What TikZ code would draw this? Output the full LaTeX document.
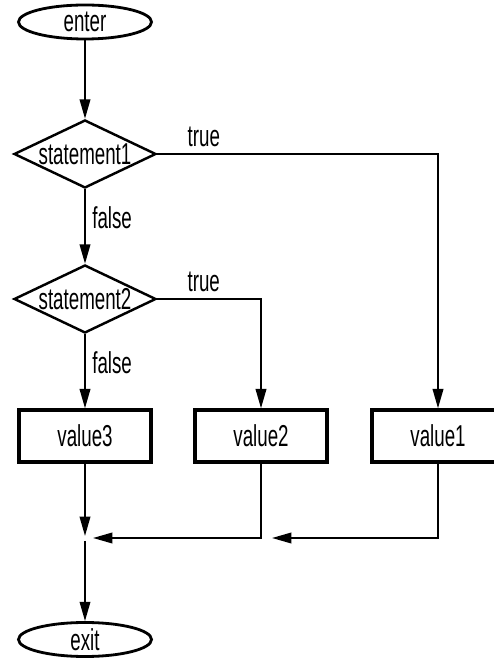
\documentclass[tikz,border=0pt]{standalone}
\usepackage{fontspec}
\setmainfont{Liberation Sans}[FakeStretch=0.62]
\usetikzlibrary{arrows.meta,shapes.geometric}
\tikzset{
  flowarr/.style  = {-{Triangle[length=5.5pt,width=3pt]},line width=0.55pt},
  termnode/.style = {draw,ellipse,line width=0.8pt,inner sep=0pt,minimum width=1.33cm,minimum height=0.34cm},
  decnode/.style  = {draw,diamond,aspect=2.1,line width=0.7pt,inner sep=0pt,minimum width=1.42cm,minimum height=0.68cm},
  valbox/.style   = {draw,rectangle,line width=0.95pt,minimum width=1.32cm,minimum height=0.52cm},
  branchlbl/.style = {inner sep=1.8pt}
}

\begin{document}
\begin{tikzpicture}[font=\fontsize{8.6pt}{10pt}\selectfont]
  \useasboundingbox (0,0) rectangle (4.94,6.58);
  \node[termnode] (enter) at (0.85,6.36) {enter};
  \node[decnode]  (st1)   at (0.85,5.04) {statement1};
  \node[decnode]  (st2)   at (0.85,3.59) {statement2};
  \node[valbox]   (val3)  at (0.85,2.22) {value3};
  \node[valbox]   (val2)  at (2.61,2.22) {value2};
  \node[valbox]   (val1)  at (4.38,2.22) {value1};
  \coordinate     (join)  at (0.85,1.20);
  \coordinate     (mid)   at (val2 |- join);
  \node[termnode] (exit)  at (0.85,0.185) {exit};
  % decisions
  \draw[flowarr] (enter) -- (st1);
  \draw[flowarr] (st1.east) -| node[pos=0.083,above,branchlbl]{true} (val1.north);
  \draw[flowarr] (st1.south) -- node[pos=0.38,right,branchlbl]{false} (st2.north);
  \draw[flowarr] (st2.east) -| node[pos=0.224,above,branchlbl]{true} (val2.north);
  \draw[flowarr] (st2.south) -- node[pos=0.39,right,branchlbl]{false} (val3.north);
  % merge
  \draw[flowarr,shorten >=0.02cm] (val3.south) -- (join);
  \draw[flowarr,shorten >=0.08cm] (val2.south) -- (mid) -- (join);
  \draw[flowarr,shorten >=0.11cm] (val1.south) |- (mid);
  \draw[flowarr,shorten <=0.03cm] (join) -- (exit.north);
\end{tikzpicture}
\end{document}
